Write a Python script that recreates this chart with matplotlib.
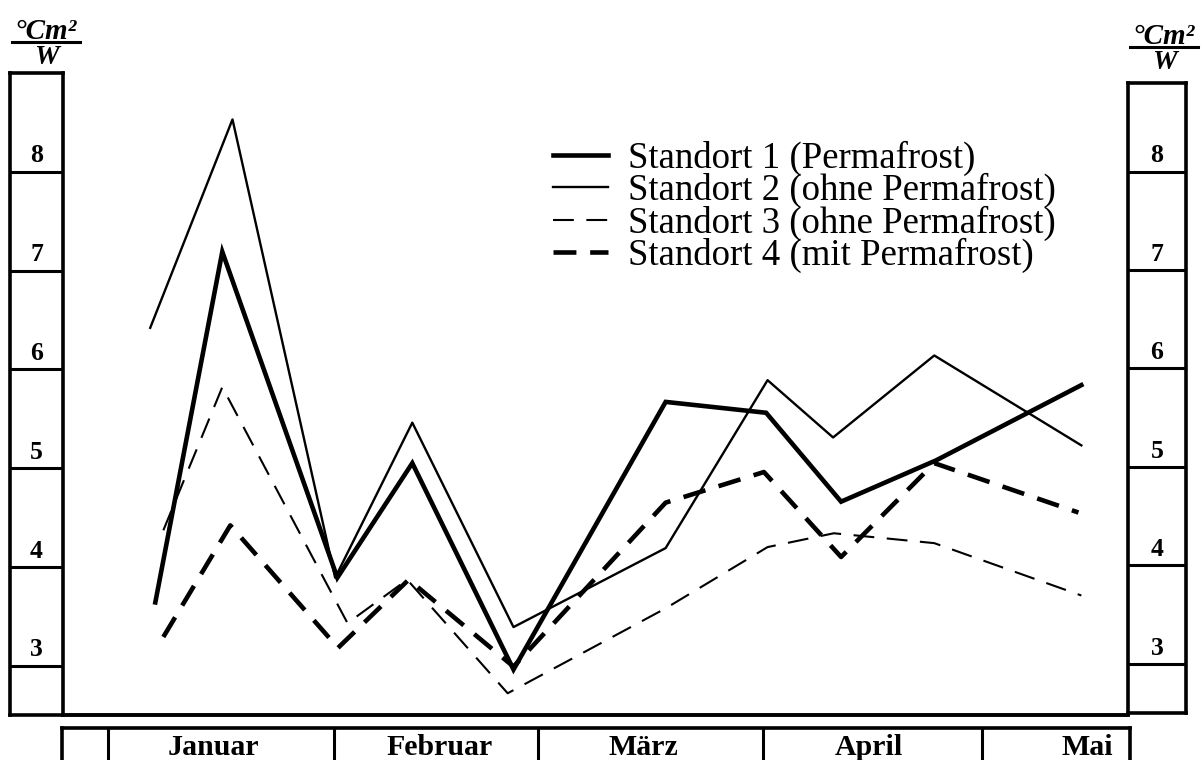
import matplotlib
matplotlib.use("Agg")
import matplotlib.pyplot as plt
from matplotlib.lines import Line2D

plt.rcParams['font.family'] = ['Liberation Serif', 'DejaVu Serif']

# measurement days (days since 1 January) and values per site
days_s1 = [6.5, 15.7, 31.5, 41.8, 55.7, 76.6, 90.4, 100.7, 113.8, 133.7]
vals_s1 = [3.64, 7.19, 3.89, 5.05, 2.96, 5.67, 5.56, 4.66, 5.08, 5.84]

days_s2 = [5.8, 17.1, 31.2, 41.8, 55.7, 76.6, 90.6, 99.6, 113.5, 133.7]
vals_s2 = [6.42, 8.53, 3.89, 5.46, 3.39, 4.19, 5.89, 5.31, 6.14, 5.23]

days_s3 = [7.6, 15.7, 32.9, 41.1, 54.9, 76.6, 90.6, 99.7, 113.5, 133.7]
vals_s3 = [4.37, 5.82, 3.43, 3.87, 2.72, 3.58, 4.20, 4.34, 4.24, 3.71]

days_s4 = [7.6, 16.8, 31.6, 41.3, 55.7, 76.6, 90.1, 100.7, 113.5, 133.3]
vals_s4 = [3.29, 4.42, 3.18, 3.87, 2.99, 4.65, 4.96, 4.10, 5.05, 4.55]

labels = ["Standort 1 (Permafrost)", "Standort 2 (ohne Permafrost)",
          "Standort 3 (ohne Permafrost)", "Standort 4 (mit Permafrost)"]

months = ["Januar", "Februar", "März", "April", "Mai"]
month_starts = [0, 31, 59, 90, 120]
y_ticks = [3, 4, 5, 6, 7, 8]
unit_top = "°Cm²"
unit_bottom = "W"

# figure layout in pixels
W, H = 1203, 760
PX_PER_DAY = 7.28
DAY0_PX = 108


def rect(x0, y0, x1, y1):
    return [x0 / W, 1 - y1 / H, (x1 - x0) / W, (y1 - y0) / H]


def px2day(px):
    return (px - DAY0_PX) / PX_PER_DAY


fig = plt.figure(figsize=(W / 100, H / 100), dpi=100)

# main plot
ax = fig.add_axes(rect(63, 73, 1128, 715))
ax.set_xlim(px2day(63), px2day(1128))
ax.set_ylim(2.5, 9.0)
for s in ["left", "right", "top"]:
    ax.spines[s].set_visible(False)
ax.spines["bottom"].set_linewidth(2.8)
ax.set_xticks([])
ax.set_yticks([])

ax.plot(days_s1, vals_s1, color="black", lw=3.3, solid_joinstyle="miter", label=labels[0])
ax.plot(days_s2, vals_s2, color="black", lw=1.7, label=labels[1])
ax.plot(days_s3, vals_s3, color="black", lw=1.5, dashes=(10, 6), label=labels[2])
ax.plot(days_s4, vals_s4, color="black", lw=3.3, dashes=(5, 3), label=labels[3])

leg = ax.legend(loc="upper left", bbox_to_anchor=(553 / W, 1 - 141 / H),
                bbox_transform=fig.transFigure, frameon=False, fontsize=26.5,
                handlelength=1.5, handletextpad=0.55, labelspacing=-0.085,
                borderpad=0, borderaxespad=0)

# left and right scale boxes
for x0, x1, top, bottom, ylim, ux in [(10, 63, 73, 715, (2.5, 9.0), 46),
                                        (1128, 1186, 83, 713, (2.5, 8.9), 1164)]:
    bx = fig.add_axes(rect(x0, top, x1, bottom))
    bx.set_ylim(*ylim)
    bx.set_xlim(0, 1)
    bx.set_xticks([])
    bx.set_yticks([])
    for s in bx.spines.values():
        s.set_linewidth(2.6)
    for v in y_ticks:
        bx.axhline(v, color="black", lw=2.2)
        bx.text(0.5, v + 0.16, str(v), ha="center", va="center",
                fontsize=18.5, fontweight="bold")
    # unit label
    uy = 42 if x0 < 100 else 47
    fig.text(ux / W, 1 - (uy - 3) / H, unit_top, ha="center", va="baseline",
             fontsize=21, fontweight="bold", fontstyle="italic")
    fig.text(ux / W, 1 - (uy + 3) / H, unit_bottom, ha="center", va="top",
             fontsize=20, fontweight="bold", fontstyle="italic")
    fig.add_artist(Line2D([(ux - 34) / W, (ux + 34) / W], [1 - uy / H, 1 - uy / H],
                          color="black", lw=2.2))

# month table at the bottom
tx = fig.add_axes(rect(62, 728, 1130, 790))
tx.set_xlim(px2day(62), px2day(1130))
tx.set_ylim(0, 1)
tx.set_xticks([])
tx.set_yticks([])
for s in tx.spines.values():
    s.set_linewidth(2.6)
for d in month_starts:
    tx.axvline(d, color="black", lw=2.2)
for i, m in enumerate(months):
    tx.text(month_starts[i] + 14.5, 1 - 27 / 62, m, ha="center", va="baseline",
            fontsize=21.5, fontweight="bold")

fig.savefig("out.png", dpi=100)
